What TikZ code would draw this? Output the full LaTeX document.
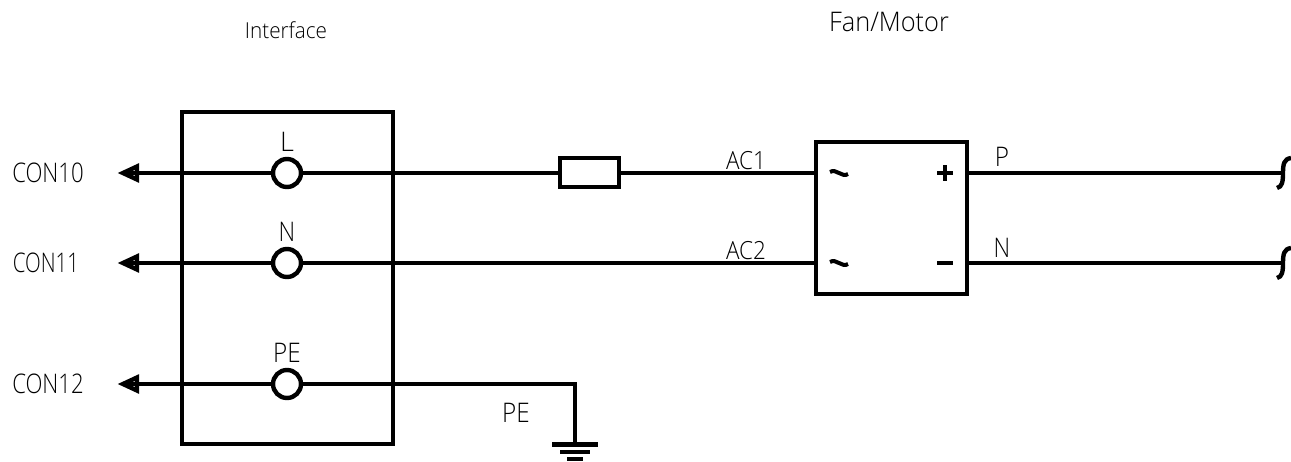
\documentclass[tikz,border=0pt]{standalone}
\usepackage{fontspec}
\setmainfont{Open Sans Light}
\usetikzlibrary{arrows.meta}
\newcommand{\cadtext}[3]{\scalebox{#1}[1]{\fontsize{#2}{#2}\selectfont #3}}
\tikzset{
  x=1pt,y=-1pt,
  wire/.style={line width=4.6pt,line cap=butt},
  thinwire/.style={line width=3.6pt},
  boxed/.style={draw,line width=4.4pt,minimum width=#1,inner sep=0pt,anchor=center,fill=none},
  term/.style={circle,draw,line width=4.4pt,fill=white,minimum size=28pt,inner sep=0pt},
  head/.style={line width=4.4pt,line join=miter},
  lab/.style={inner sep=0pt,anchor=center,text=black}
}
\begin{document}
\begin{tikzpicture}
\useasboundingbox (0,0) rectangle (1291,461);
\node[boxed=211pt,minimum height=332pt] (iface) at (287.5,278) {};
\node[boxed=151pt,minimum height=152pt] (fan) at (891.5,218) {};
\coordinate (a1) at (124,173);
\coordinate (a2) at (124,263);
\coordinate (a3) at (124,384);
\coordinate (e1) at (1283,173);
\coordinate (e2) at (1283,263);
\coordinate (g) at (575,384);
\coordinate (gp) at (575,444);
% wires
\draw[wire] (a1) -- (e1 -| fan.west);
\draw[thinwire] (a2) -- (e2 -| fan.west);
\draw[wire] (a3) -- (g) -- (gp);
\draw[wire] (e1 -| fan.east) -- (e1);
\draw[thinwire] (e2 -| fan.east) -- (e2);
% terminals and fuse
\node[term] (tL) at (287,173) {};
\node[term] (tN) at (287,263) {};
\node[term] (tP) at (287,384) {};
\node[draw,line width=4.4pt,fill=white,minimum width=59pt,minimum height=29pt,inner sep=0pt] (fuse) at (589.5,172.5) {};
% arrowheads
\foreach \c in {a1,a2,a3}
  \draw[head] (\c) ++(-1,0) -- ++(14,-6.5) -- ++(0,13) -- cycle;
% ends
\foreach \c in {e1,e2}{
  \begin{scope}[shift={(\c)}]
    \draw[line width=4.4pt] (-6,15) .. controls (-1,14) and (0,9) .. (0,0) .. controls (0,-9) and (1,-14) .. (8,-15);
  \end{scope}
}
% ground
\draw[line width=4.4pt] (552,444.5) -- (598,444.5);
\draw[line width=4.4pt] (560,452) -- (590,452);
\draw[line width=4.4pt] (567,459) -- (583,459);
% bridge symbols
\foreach \c in {173,263}
  \draw[line width=4pt] (830,\c-1) .. controls (836,\c-5) and (842,\c+5) .. (848,\c+1);
\draw[line width=4.4pt] (937,173) -- (953,173) (945,165) -- (945,181);
\draw[line width=4.4pt] (937,263) -- (953,263);
% labels
\node[lab] (ti) at (286,30) {\cadtext{.94}{22}{Interface}};
\node[lab] (tf) at (889,22) {\cadtext{.94}{27}{Fan/Motor}};
\node[lab] (c10) at (48,173) {\cadtext{.82}{27}{CON10}};
\node[lab] (c11) at (46,263) {\cadtext{.76}{27}{CON11}};
\node[lab] (c12) at (48,384) {\cadtext{.82}{27}{CON12}};
\node[lab] (lL) at (287,142) {\cadtext{1}{27}{L}};
\node[lab] (lN) at (287,232) {\cadtext{.85}{27}{N}};
\node[lab] (lP) at (287,353) {\cadtext{.9}{27}{PE}};
\node[lab] (ac1) at (746,161) {\cadtext{.9}{25}{AC1}};
\node[lab] (ac2) at (746,251) {\cadtext{.9}{25}{AC2}};
\node[lab] (oP) at (1002,157) {\cadtext{.9}{27}{P}};
\node[lab] (oN) at (1002,248) {\cadtext{.85}{27}{N}};
\node[lab] (gl) at (516,413) {\cadtext{.9}{27}{PE}};
\end{tikzpicture}
\end{document}
